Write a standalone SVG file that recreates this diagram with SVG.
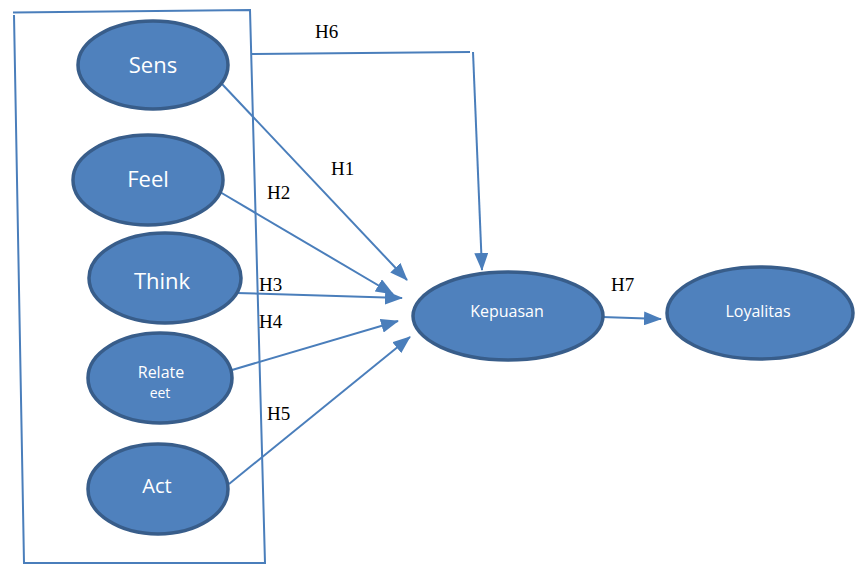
<svg xmlns="http://www.w3.org/2000/svg" width="855" height="565" viewBox="0 0 855 565">
<defs>
<marker id="ah" markerWidth="18" markerHeight="14" refX="17" refY="7" orient="auto" markerUnits="userSpaceOnUse">
<path d="M0,0 L18,7 L0,14 Z" fill="#4A7EBB"/>
</marker>
<style>
.n{fill:#4F81BD;stroke:#385D8A;stroke-width:3.5}
.t{fill:#fff;font-family:"Open Sans","Liberation Sans",sans-serif;text-anchor:middle;dominant-baseline:central}
.c{fill:none;stroke:#4A7EBB;stroke-width:2}
.l{font-family:"Liberation Serif",serif;font-size:19px;fill:#000}
.b{fill:none;stroke:#4A7EBB;stroke-width:2}
</style>
</defs>
<rect width="855" height="565" fill="#fff"/>
<g id="frame">
<path class="b" d="M13,12.5 L250,10 L265,563 L24,563 L14,15"/>
</g>
<g id="connectors">
<path class="c" d="M252,54 L470,52"/>
<path class="c" d="M473,52 L482,270" marker-end="url(#ah)"/>
<path class="c" d="M222,84 L407,280" marker-end="url(#ah)"/>
<path class="c" d="M220,192 L393,294" marker-end="url(#ah)"/>
<path class="c" d="M236,293 L402,298" marker-end="url(#ah)"/>
<path class="c" d="M232,370 L398,321" marker-end="url(#ah)"/>
<path class="c" d="M229,484 L410,337" marker-end="url(#ah)"/>
<path class="c" d="M602,317 L661,319" marker-end="url(#ah)"/>
</g>
<g id="labels">
<text class="l" x="315" y="38">H6</text>
<text class="l" x="331" y="175">H1</text>
<text class="l" x="267" y="199">H2</text>
<text class="l" x="259" y="291">H3</text>
<text class="l" x="259" y="328">H4</text>
<text class="l" x="267" y="420">H5</text>
<text class="l" x="611" y="291">H7</text>
</g>
<g id="sens"><ellipse class="n" cx="153" cy="65" rx="75" ry="44"/><text class="t" x="153" y="64" font-size="22">Sens</text></g>
<g id="feel"><ellipse class="n" cx="148" cy="180" rx="75" ry="45"/><text class="t" x="148" y="178" font-size="22">Feel</text></g>
<g id="think"><ellipse class="n" cx="165" cy="278" rx="76" ry="45"/><text class="t" x="162" y="280" font-size="22">Think</text></g>
<g id="relate"><ellipse class="n" cx="160" cy="378" rx="72" ry="45"/><text class="t" x="161" y="372" font-size="16">Relate</text><text class="t" x="160" y="392" font-size="14">eet</text></g>
<g id="act"><ellipse class="n" cx="158" cy="489" rx="70" ry="45"/><text class="t" x="157" y="485" font-size="20">Act</text></g>
<g id="kepuasan"><ellipse class="n" cx="508" cy="316" rx="95" ry="44"/><text class="t" x="507" y="311" font-size="16">Kepuasan</text></g>
<g id="loyalitas"><ellipse class="n" cx="760" cy="313" rx="93" ry="46"/><text class="t" x="758" y="311" font-size="16">Loyalitas</text></g>
</svg>
